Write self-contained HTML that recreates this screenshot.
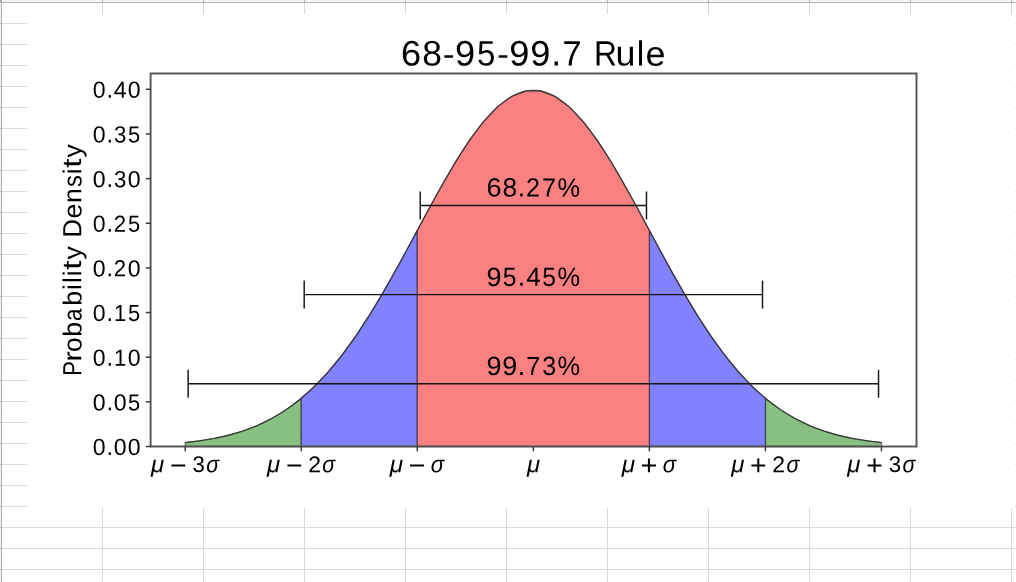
<!DOCTYPE html>
<html><head><meta charset="utf-8"><title>68-95-99.7 Rule</title>
<style>html,body{margin:0;padding:0;background:#fff;width:1016px;height:582px;overflow:hidden}svg{display:block;will-change:transform}text{font-family:"Liberation Sans",sans-serif;font-kerning:none;text-rendering:geometricPrecision;fill:#000}</style>
</head><body>
<svg width="1016" height="582" viewBox="0 0 1016 582" role="img" aria-label="68-95-99.7 Rule chart"><rect x="2" y="23" width="1014" height="1" fill="#dadada"/>
<rect x="2" y="44" width="1014" height="1" fill="#dadada"/>
<rect x="2" y="65" width="1014" height="1" fill="#dadada"/>
<rect x="2" y="86" width="1014" height="1" fill="#dadada"/>
<rect x="2" y="107" width="1014" height="1" fill="#dadada"/>
<rect x="2" y="128" width="1014" height="1" fill="#dadada"/>
<rect x="2" y="149" width="1014" height="1" fill="#dadada"/>
<rect x="2" y="170" width="1014" height="1" fill="#dadada"/>
<rect x="2" y="191" width="1014" height="1" fill="#dadada"/>
<rect x="2" y="212" width="1014" height="1" fill="#dadada"/>
<rect x="2" y="233" width="1014" height="1" fill="#dadada"/>
<rect x="2" y="254" width="1014" height="1" fill="#dadada"/>
<rect x="2" y="275" width="1014" height="1" fill="#dadada"/>
<rect x="2" y="296" width="1014" height="1" fill="#dadada"/>
<rect x="2" y="317" width="1014" height="1" fill="#dadada"/>
<rect x="2" y="338" width="1014" height="1" fill="#dadada"/>
<rect x="2" y="359" width="1014" height="1" fill="#dadada"/>
<rect x="2" y="380" width="1014" height="1" fill="#dadada"/>
<rect x="2" y="401" width="1014" height="1" fill="#dadada"/>
<rect x="2" y="422" width="1014" height="1" fill="#dadada"/>
<rect x="2" y="443" width="1014" height="1" fill="#dadada"/>
<rect x="2" y="464" width="1014" height="1" fill="#dadada"/>
<rect x="2" y="485" width="1014" height="1" fill="#dadada"/>
<rect x="2" y="506" width="1014" height="1" fill="#dadada"/>
<rect x="2" y="527" width="1014" height="1" fill="#dadada"/>
<rect x="2" y="548" width="1014" height="1" fill="#dadada"/>
<rect x="2" y="569" width="1014" height="1" fill="#dadada"/>
<rect x="102" y="3" width="1" height="579" fill="#dadada"/>
<rect x="203" y="3" width="1" height="579" fill="#dadada"/>
<rect x="304" y="3" width="1" height="579" fill="#dadada"/>
<rect x="405" y="3" width="1" height="579" fill="#dadada"/>
<rect x="506" y="3" width="1" height="579" fill="#dadada"/>
<rect x="607" y="3" width="1" height="579" fill="#dadada"/>
<rect x="708" y="3" width="1" height="579" fill="#dadada"/>
<rect x="809" y="3" width="1" height="579" fill="#dadada"/>
<rect x="910" y="3" width="1" height="579" fill="#dadada"/>
<rect x="1011" y="3" width="1" height="579" fill="#dadada"/>
<rect x="0" y="0" width="1016" height="1" fill="#f3f4f6"/>
<rect x="0" y="1" width="1016" height="1" fill="#f8f9fa"/>
<rect x="0" y="0" width="1" height="582" fill="#f3f4f6"/>
<rect x="0" y="2" width="1016" height="1" fill="#b0b0b0"/>
<rect x="1" y="0" width="1" height="582" fill="#b0b0b0"/>
<rect x="102" y="0" width="1" height="2" fill="#b0b0b0"/>
<rect x="203" y="0" width="1" height="2" fill="#b0b0b0"/>
<rect x="304" y="0" width="1" height="2" fill="#b0b0b0"/>
<rect x="405" y="0" width="1" height="2" fill="#b0b0b0"/>
<rect x="506" y="0" width="1" height="2" fill="#b0b0b0"/>
<rect x="607" y="0" width="1" height="2" fill="#b0b0b0"/>
<rect x="708" y="0" width="1" height="2" fill="#b0b0b0"/>
<rect x="809" y="0" width="1" height="2" fill="#b0b0b0"/>
<rect x="910" y="0" width="1" height="2" fill="#b0b0b0"/>
<rect x="1011" y="0" width="1" height="2" fill="#b0b0b0"/>
<rect x="0" y="23" width="1" height="1" fill="#b0b0b0"/>
<rect x="0" y="44" width="1" height="1" fill="#b0b0b0"/>
<rect x="0" y="65" width="1" height="1" fill="#b0b0b0"/>
<rect x="0" y="86" width="1" height="1" fill="#b0b0b0"/>
<rect x="0" y="107" width="1" height="1" fill="#b0b0b0"/>
<rect x="0" y="128" width="1" height="1" fill="#b0b0b0"/>
<rect x="0" y="149" width="1" height="1" fill="#b0b0b0"/>
<rect x="0" y="170" width="1" height="1" fill="#b0b0b0"/>
<rect x="0" y="191" width="1" height="1" fill="#b0b0b0"/>
<rect x="0" y="212" width="1" height="1" fill="#b0b0b0"/>
<rect x="0" y="233" width="1" height="1" fill="#b0b0b0"/>
<rect x="0" y="254" width="1" height="1" fill="#b0b0b0"/>
<rect x="0" y="275" width="1" height="1" fill="#b0b0b0"/>
<rect x="0" y="296" width="1" height="1" fill="#b0b0b0"/>
<rect x="0" y="317" width="1" height="1" fill="#b0b0b0"/>
<rect x="0" y="338" width="1" height="1" fill="#b0b0b0"/>
<rect x="0" y="359" width="1" height="1" fill="#b0b0b0"/>
<rect x="0" y="380" width="1" height="1" fill="#b0b0b0"/>
<rect x="0" y="401" width="1" height="1" fill="#b0b0b0"/>
<rect x="0" y="422" width="1" height="1" fill="#b0b0b0"/>
<rect x="0" y="443" width="1" height="1" fill="#b0b0b0"/>
<rect x="0" y="464" width="1" height="1" fill="#b0b0b0"/>
<rect x="0" y="485" width="1" height="1" fill="#b0b0b0"/>
<rect x="0" y="506" width="1" height="1" fill="#b0b0b0"/>
<rect x="0" y="527" width="1" height="1" fill="#b0b0b0"/>
<rect x="0" y="548" width="1" height="1" fill="#b0b0b0"/>
<rect x="0" y="569" width="1" height="1" fill="#b0b0b0"/>
<rect x="0" y="0" width="2" height="2" fill="#b0b0b0"/>
<rect x="27" y="14" width="988" height="494" fill="#fff"/>
<g><path d="M185.26,446.50 L185.26,442.54 L186.71,442.39 L188.16,442.24 L189.61,442.07 L191.06,441.91 L192.51,441.74 L193.96,441.56 L195.41,441.37 L196.86,441.18 L198.31,440.99 L199.76,440.79 L201.21,440.58 L202.66,440.36 L204.11,440.14 L205.57,439.91 L207.02,439.68 L208.47,439.43 L209.92,439.18 L211.37,438.92 L212.82,438.65 L214.27,438.38 L215.72,438.10 L217.17,437.80 L218.62,437.50 L220.07,437.19 L221.52,436.88 L222.97,436.55 L224.42,436.21 L225.87,435.86 L227.32,435.50 L228.77,435.14 L230.22,434.76 L231.67,434.37 L233.12,433.97 L234.57,433.56 L236.02,433.14 L237.47,432.70 L238.92,432.26 L240.37,431.80 L241.82,431.33 L243.28,430.85 L244.73,430.35 L246.18,429.84 L247.63,429.32 L249.08,428.79 L250.53,428.24 L251.98,427.67 L253.43,427.09 L254.88,426.50 L256.33,425.89 L257.78,425.27 L259.23,424.63 L260.68,423.98 L262.13,423.31 L263.58,422.62 L265.03,421.92 L266.48,421.20 L267.93,420.47 L269.38,419.72 L270.83,418.94 L272.28,418.16 L273.73,417.35 L275.18,416.53 L276.63,415.68 L278.08,414.82 L279.53,413.94 L280.98,413.04 L282.44,412.12 L283.89,411.18 L285.34,410.22 L286.79,409.24 L288.24,408.24 L289.69,407.22 L291.14,406.18 L292.59,405.12 L294.04,404.03 L295.49,402.93 L296.94,401.80 L298.39,400.65 L299.84,399.48 L301.29,398.29 L301.29,446.50 Z" fill="#88c082" stroke="#000" stroke-width="1.35" stroke-opacity="0.45"/>
<path d="M765.41,446.50 L765.41,398.29 L766.86,399.48 L768.31,400.65 L769.76,401.80 L771.21,402.93 L772.66,404.03 L774.11,405.12 L775.56,406.18 L777.01,407.22 L778.46,408.24 L779.91,409.24 L781.36,410.22 L782.81,411.18 L784.26,412.12 L785.72,413.04 L787.17,413.94 L788.62,414.82 L790.07,415.68 L791.52,416.53 L792.97,417.35 L794.42,418.16 L795.87,418.94 L797.32,419.72 L798.77,420.47 L800.22,421.20 L801.67,421.92 L803.12,422.62 L804.57,423.31 L806.02,423.98 L807.47,424.63 L808.92,425.27 L810.37,425.89 L811.82,426.50 L813.27,427.09 L814.72,427.67 L816.17,428.24 L817.62,428.79 L819.07,429.32 L820.52,429.84 L821.97,430.35 L823.42,430.85 L824.88,431.33 L826.33,431.80 L827.78,432.26 L829.23,432.70 L830.68,433.14 L832.13,433.56 L833.58,433.97 L835.03,434.37 L836.48,434.76 L837.93,435.14 L839.38,435.50 L840.83,435.86 L842.28,436.21 L843.73,436.55 L845.18,436.88 L846.63,437.19 L848.08,437.50 L849.53,437.80 L850.98,438.10 L852.43,438.38 L853.88,438.65 L855.33,438.92 L856.78,439.18 L858.23,439.43 L859.68,439.68 L861.13,439.91 L862.59,440.14 L864.04,440.36 L865.49,440.58 L866.94,440.79 L868.39,440.99 L869.84,441.18 L871.29,441.37 L872.74,441.56 L874.19,441.74 L875.64,441.91 L877.09,442.07 L878.54,442.24 L879.99,442.39 L881.44,442.54 L881.44,446.50 Z" fill="#88c082" stroke="#000" stroke-width="1.35" stroke-opacity="0.45"/>
<path d="M301.29,446.50 L301.29,398.29 L302.74,397.07 L304.19,395.83 L305.64,394.57 L307.09,393.28 L308.54,391.97 L309.99,390.64 L311.44,389.28 L312.89,387.91 L314.34,386.50 L315.79,385.07 L317.24,383.62 L318.69,382.15 L320.14,380.65 L321.60,379.12 L323.05,377.57 L324.50,376.00 L325.95,374.40 L327.40,372.78 L328.85,371.13 L330.30,369.45 L331.75,367.76 L333.20,366.03 L334.65,364.29 L336.10,362.51 L337.55,360.72 L339.00,358.90 L340.45,357.05 L341.90,355.18 L343.35,353.28 L344.80,351.36 L346.25,349.42 L347.70,347.45 L349.15,345.45 L350.60,343.44 L352.05,341.40 L353.50,339.33 L354.95,337.24 L356.40,335.13 L357.85,333.00 L359.31,330.84 L360.76,328.66 L362.21,326.46 L363.66,324.23 L365.11,321.99 L366.56,319.72 L368.01,317.43 L369.46,315.12 L370.91,312.79 L372.36,310.44 L373.81,308.07 L375.26,305.69 L376.71,303.28 L378.16,300.85 L379.61,298.41 L381.06,295.95 L382.51,293.47 L383.96,290.97 L385.41,288.46 L386.86,285.94 L388.31,283.39 L389.76,280.84 L391.21,278.27 L392.66,275.69 L394.11,273.09 L395.56,270.48 L397.01,267.87 L398.47,265.24 L399.92,262.60 L401.37,259.95 L402.82,257.29 L404.27,254.63 L405.72,251.96 L407.17,249.28 L408.62,246.60 L410.07,243.91 L411.52,241.22 L412.97,238.52 L414.42,235.82 L415.87,233.12 L417.32,230.42 L417.32,446.50 Z" fill="#8282fe" stroke="#000" stroke-width="1.35" stroke-opacity="0.45"/>
<path d="M649.38,446.50 L649.38,230.42 L650.83,233.12 L652.28,235.82 L653.73,238.52 L655.18,241.22 L656.63,243.91 L658.08,246.60 L659.53,249.28 L660.98,251.96 L662.43,254.63 L663.88,257.29 L665.33,259.95 L666.78,262.60 L668.23,265.24 L669.69,267.87 L671.14,270.48 L672.59,273.09 L674.04,275.69 L675.49,278.27 L676.94,280.84 L678.39,283.39 L679.84,285.94 L681.29,288.46 L682.74,290.97 L684.19,293.47 L685.64,295.95 L687.09,298.41 L688.54,300.85 L689.99,303.28 L691.44,305.69 L692.89,308.07 L694.34,310.44 L695.79,312.79 L697.24,315.12 L698.69,317.43 L700.14,319.72 L701.59,321.99 L703.04,324.23 L704.49,326.46 L705.94,328.66 L707.39,330.84 L708.85,333.00 L710.30,335.13 L711.75,337.24 L713.20,339.33 L714.65,341.40 L716.10,343.44 L717.55,345.45 L719.00,347.45 L720.45,349.42 L721.90,351.36 L723.35,353.28 L724.80,355.18 L726.25,357.05 L727.70,358.90 L729.15,360.72 L730.60,362.51 L732.05,364.29 L733.50,366.03 L734.95,367.76 L736.40,369.45 L737.85,371.13 L739.30,372.78 L740.75,374.40 L742.20,376.00 L743.65,377.57 L745.10,379.12 L746.56,380.65 L748.01,382.15 L749.46,383.62 L750.91,385.07 L752.36,386.50 L753.81,387.91 L755.26,389.28 L756.71,390.64 L758.16,391.97 L759.61,393.28 L761.06,394.57 L762.51,395.83 L763.96,397.07 L765.41,398.29 L765.41,446.50 Z" fill="#8282fe" stroke="#000" stroke-width="1.35" stroke-opacity="0.45"/>
<path d="M417.32,446.50 L417.32,230.42 L420.22,225.02 L423.12,219.63 L426.02,214.25 L428.92,208.89 L431.82,203.55 L434.72,198.26 L437.63,193.01 L440.53,187.81 L443.43,182.66 L446.33,177.58 L449.23,172.58 L452.13,167.66 L455.03,162.82 L457.93,158.09 L460.83,153.45 L463.73,148.93 L466.63,144.53 L469.53,140.25 L472.43,136.11 L475.34,132.11 L478.24,128.25 L481.14,124.55 L484.04,121.01 L486.94,117.63 L489.84,114.43 L492.74,111.41 L495.64,108.57 L498.54,105.92 L501.44,103.46 L504.34,101.21 L507.24,99.15 L510.14,97.30 L513.04,95.66 L515.95,94.23 L518.85,93.02 L521.75,92.02 L524.65,91.25 L527.55,90.69 L530.45,90.36 L533.35,90.24 L536.25,90.36 L539.15,90.69 L542.05,91.25 L544.95,92.02 L547.85,93.02 L550.75,94.23 L553.66,95.66 L556.56,97.30 L559.46,99.15 L562.36,101.21 L565.26,103.46 L568.16,105.92 L571.06,108.57 L573.96,111.41 L576.86,114.43 L579.76,117.63 L582.66,121.01 L585.56,124.55 L588.46,128.25 L591.37,132.11 L594.27,136.11 L597.17,140.25 L600.07,144.53 L602.97,148.93 L605.87,153.45 L608.77,158.09 L611.67,162.82 L614.57,167.66 L617.47,172.58 L620.37,177.58 L623.27,182.66 L626.17,187.81 L629.07,193.01 L631.98,198.26 L634.88,203.55 L637.78,208.89 L640.68,214.25 L643.58,219.63 L646.48,225.02 L649.38,230.42 L649.38,446.50 Z" fill="#fa8082" stroke="#000" stroke-width="1.35" stroke-opacity="0.45"/>
<polyline points="185.26,442.54 199.47,440.83 213.68,438.49 227.88,435.36 242.09,431.24 256.30,425.91 270.51,419.12 284.71,410.64 298.92,400.22 313.13,387.68 327.34,372.84 341.55,355.64 355.75,336.08 369.96,314.32 384.17,290.62 398.38,265.40 412.58,239.23 426.79,212.82 441.00,186.96 455.21,162.53 469.42,140.42 483.62,121.50 497.83,106.55 512.04,96.20 526.25,90.91 540.45,90.91 554.66,96.20 568.87,106.55 583.08,121.50 597.28,140.42 611.49,162.53 625.70,186.96 639.91,212.82 654.12,239.23 668.32,265.40 682.53,290.62 696.74,314.32 710.95,336.08 725.15,355.64 739.36,372.84 753.57,387.68 767.78,400.22 781.99,410.64 796.19,419.12 810.40,425.91 824.61,431.24 838.82,435.36 853.02,438.49 867.23,440.83 881.44,442.54" fill="none" stroke="#333" stroke-width="1.1"/>
<rect x="150.6" y="73.5" width="765.90" height="373.00" fill="none" stroke="#525252" stroke-width="1.9"/>
<line x1="185.26" y1="446.5" x2="185.26" y2="451.30" stroke="#3a3a3a" stroke-width="1.5"/>
<line x1="301.29" y1="446.5" x2="301.29" y2="451.30" stroke="#3a3a3a" stroke-width="1.5"/>
<line x1="417.32" y1="446.5" x2="417.32" y2="451.30" stroke="#3a3a3a" stroke-width="1.5"/>
<line x1="533.35" y1="446.5" x2="533.35" y2="451.30" stroke="#3a3a3a" stroke-width="1.5"/>
<line x1="649.38" y1="446.5" x2="649.38" y2="451.30" stroke="#3a3a3a" stroke-width="1.5"/>
<line x1="765.41" y1="446.5" x2="765.41" y2="451.30" stroke="#3a3a3a" stroke-width="1.5"/>
<line x1="881.44" y1="446.5" x2="881.44" y2="451.30" stroke="#3a3a3a" stroke-width="1.5"/>
<line x1="145.80" y1="446.50" x2="150.6" y2="446.50" stroke="#3a3a3a" stroke-width="1.5"/>
<line x1="145.80" y1="401.85" x2="150.6" y2="401.85" stroke="#3a3a3a" stroke-width="1.5"/>
<line x1="145.80" y1="357.20" x2="150.6" y2="357.20" stroke="#3a3a3a" stroke-width="1.5"/>
<line x1="145.80" y1="312.55" x2="150.6" y2="312.55" stroke="#3a3a3a" stroke-width="1.5"/>
<line x1="145.80" y1="267.90" x2="150.6" y2="267.90" stroke="#3a3a3a" stroke-width="1.5"/>
<line x1="145.80" y1="223.25" x2="150.6" y2="223.25" stroke="#3a3a3a" stroke-width="1.5"/>
<line x1="145.80" y1="178.60" x2="150.6" y2="178.60" stroke="#3a3a3a" stroke-width="1.5"/>
<line x1="145.80" y1="133.95" x2="150.6" y2="133.95" stroke="#3a3a3a" stroke-width="1.5"/>
<line x1="145.80" y1="89.30" x2="150.6" y2="89.30" stroke="#3a3a3a" stroke-width="1.5"/>
<g stroke="#141414" stroke-width="1.45" fill="none"><line x1="420.22" y1="205.45" x2="646.48" y2="205.45"/><line x1="420.22" y1="191.45" x2="420.22" y2="219.45"/><line x1="646.48" y1="191.45" x2="646.48" y2="219.45"/></g>
<g stroke="#141414" stroke-width="1.45" fill="none"><line x1="304.19" y1="294.60" x2="762.51" y2="294.60"/><line x1="304.19" y1="280.60" x2="304.19" y2="308.60"/><line x1="762.51" y1="280.60" x2="762.51" y2="308.60"/></g>
<g stroke="#141414" stroke-width="1.45" fill="none"><line x1="188.16" y1="383.75" x2="878.54" y2="383.75"/><line x1="188.16" y1="369.75" x2="188.16" y2="397.75"/><line x1="878.54" y1="369.75" x2="878.54" y2="397.75"/></g>
<g aria-label="68-95-99.7 Rule"><text transform="matrix(1.0213,0.001,0,1,400.88,65.62)" font-size="35.47" >6</text><text transform="matrix(0.9975,0.001,0,1,422.24,65.62)" font-size="35.47" >8</text><text transform="matrix(1.0517,0.001,0,1,442.68,65.44)" font-size="34.03" >-</text><text transform="matrix(1.0192,0.001,0,1,455.02,65.62)" font-size="35.47" >9</text><text transform="matrix(0.9341,0.001,0,1,476.99,65.62)" font-size="35.36" >5</text><text transform="matrix(1.0517,0.001,0,1,496.90,65.44)" font-size="34.03" >-</text><text transform="matrix(1.0192,0.001,0,1,509.25,65.62)" font-size="35.47" >9</text><text transform="matrix(1.0192,0.001,0,1,530.37,65.62)" font-size="35.47" >9</text><text transform="matrix(0.9329,0.001,0,1,551.37,65.50)" font-size="38.51" >.</text><text transform="matrix(0.9731,0.001,0,1,562.62,65.50)" font-size="35.18" >7</text><text transform="matrix(0.9026,0.001,0,1,593.98,65.50)" font-size="35.18" >R</text><text transform="matrix(1.0103,0.001,0,1,615.40,65.62)" font-size="35.43" >u</text><text transform="matrix(0.9749,0.001,0,1,636.79,65.50)" font-size="34.81" >l</text><text transform="matrix(1.0305,0.001,0,1,645.48,65.63)" font-size="34.80" >e</text></g>
<g aria-label="68.27%"><text transform="matrix(1.0213,0.001,0,1,486.52,196.59)" font-size="26.44" >6</text><text transform="matrix(0.9975,0.001,0,1,502.44,196.59)" font-size="26.44" >8</text><text transform="matrix(0.9329,0.001,0,1,517.86,196.50)" font-size="28.71" >.</text><text transform="matrix(0.9559,0.001,0,1,526.07,196.50)" font-size="26.31" >2</text><text transform="matrix(0.9731,0.001,0,1,541.99,196.50)" font-size="26.23" >7</text><text transform="matrix(0.9500,0.001,0,1,557.48,196.69)" font-size="26.75" >%</text></g>
<g aria-label="95.45%"><text transform="matrix(1.0192,0.001,0,1,486.46,285.89)" font-size="26.44" >9</text><text transform="matrix(0.9341,0.001,0,1,502.83,285.89)" font-size="26.36" >5</text><text transform="matrix(0.9329,0.001,0,1,517.86,285.80)" font-size="28.71" >.</text><text transform="matrix(0.9949,0.001,0,1,526.13,285.80)" font-size="26.23" >4</text><text transform="matrix(0.9341,0.001,0,1,542.20,285.89)" font-size="26.36" >5</text><text transform="matrix(0.9500,0.001,0,1,557.48,285.99)" font-size="26.75" >%</text></g>
<g aria-label="99.73%"><text transform="matrix(1.0192,0.001,0,1,486.46,374.99)" font-size="26.44" >9</text><text transform="matrix(1.0192,0.001,0,1,502.21,374.99)" font-size="26.44" >9</text><text transform="matrix(0.9329,0.001,0,1,517.86,374.90)" font-size="28.71" >.</text><text transform="matrix(0.9731,0.001,0,1,526.25,374.90)" font-size="26.23" >7</text><text transform="matrix(0.9477,0.001,0,1,542.20,374.99)" font-size="26.44" >3</text><text transform="matrix(0.9500,0.001,0,1,557.48,375.09)" font-size="26.75" >%</text></g>
<g aria-label="0.00"><text transform="matrix(0.9868,0.001,0,1,92.86,455.03)" font-size="23.43" >0</text><text transform="matrix(0.9329,0.001,0,1,106.45,454.95)" font-size="25.43" >.</text><text transform="matrix(0.9868,0.001,0,1,113.79,455.03)" font-size="23.43" >0</text><text transform="matrix(0.9868,0.001,0,1,127.74,455.03)" font-size="23.43" >0</text></g>
<g aria-label="0.05"><text transform="matrix(0.9868,0.001,0,1,92.86,410.38)" font-size="23.43" >0</text><text transform="matrix(0.9329,0.001,0,1,106.45,410.30)" font-size="25.43" >.</text><text transform="matrix(0.9868,0.001,0,1,113.79,410.38)" font-size="23.43" >0</text><text transform="matrix(0.9341,0.001,0,1,128.02,410.38)" font-size="23.36" >5</text></g>
<g aria-label="0.10"><text transform="matrix(0.9868,0.001,0,1,92.86,365.73)" font-size="23.43" >0</text><text transform="matrix(0.9329,0.001,0,1,106.45,365.65)" font-size="25.43" >.</text><text transform="matrix(0.9502,0.001,0,1,113.97,365.65)" font-size="23.24" >1</text><text transform="matrix(0.9868,0.001,0,1,127.74,365.73)" font-size="23.43" >0</text></g>
<g aria-label="0.15"><text transform="matrix(0.9868,0.001,0,1,92.86,321.08)" font-size="23.43" >0</text><text transform="matrix(0.9329,0.001,0,1,106.45,321.00)" font-size="25.43" >.</text><text transform="matrix(0.9502,0.001,0,1,113.97,321.00)" font-size="23.24" >1</text><text transform="matrix(0.9341,0.001,0,1,128.02,321.08)" font-size="23.36" >5</text></g>
<g aria-label="0.20"><text transform="matrix(0.9868,0.001,0,1,92.86,276.43)" font-size="23.43" >0</text><text transform="matrix(0.9329,0.001,0,1,106.45,276.35)" font-size="25.43" >.</text><text transform="matrix(0.9559,0.001,0,1,113.73,276.35)" font-size="23.31" >2</text><text transform="matrix(0.9868,0.001,0,1,127.74,276.43)" font-size="23.43" >0</text></g>
<g aria-label="0.25"><text transform="matrix(0.9868,0.001,0,1,92.86,231.78)" font-size="23.43" >0</text><text transform="matrix(0.9329,0.001,0,1,106.45,231.70)" font-size="25.43" >.</text><text transform="matrix(0.9559,0.001,0,1,113.73,231.70)" font-size="23.31" >2</text><text transform="matrix(0.9341,0.001,0,1,128.02,231.78)" font-size="23.36" >5</text></g>
<g aria-label="0.30"><text transform="matrix(0.9868,0.001,0,1,92.86,187.13)" font-size="23.43" >0</text><text transform="matrix(0.9329,0.001,0,1,106.45,187.05)" font-size="25.43" >.</text><text transform="matrix(0.9477,0.001,0,1,114.07,187.13)" font-size="23.43" >3</text><text transform="matrix(0.9868,0.001,0,1,127.74,187.13)" font-size="23.43" >0</text></g>
<g aria-label="0.35"><text transform="matrix(0.9868,0.001,0,1,92.86,142.48)" font-size="23.43" >0</text><text transform="matrix(0.9329,0.001,0,1,106.45,142.40)" font-size="25.43" >.</text><text transform="matrix(0.9477,0.001,0,1,114.07,142.48)" font-size="23.43" >3</text><text transform="matrix(0.9341,0.001,0,1,128.02,142.48)" font-size="23.36" >5</text></g>
<g aria-label="0.40"><text transform="matrix(0.9868,0.001,0,1,92.86,97.83)" font-size="23.43" >0</text><text transform="matrix(0.9329,0.001,0,1,106.45,97.75)" font-size="25.43" >.</text><text transform="matrix(0.9949,0.001,0,1,113.79,97.75)" font-size="23.24" >4</text><text transform="matrix(0.9868,0.001,0,1,127.74,97.83)" font-size="23.43" >0</text></g>
<g transform="translate(81.3,376.43) rotate(-90)"><g aria-label="Probability Density"><text transform="matrix(0.8346,0.001,0,1,0.63,0.00)" font-size="26.23" >P</text><text transform="matrix(1.2310,0.001,0,1,14.63,0.00)" font-size="25.76" >r</text><text transform="matrix(1.0143,0.001,0,1,24.38,0.10)" font-size="25.94" >o</text><text transform="matrix(1.0323,0.001,0,1,39.78,0.10)" font-size="26.08" >b</text><text transform="matrix(0.8579,0.001,0,1,55.52,0.10)" font-size="25.94" >a</text><text transform="matrix(1.0323,0.001,0,1,70.65,0.10)" font-size="26.08" >b</text><text transform="matrix(0.9749,0.001,0,1,86.49,0.00)" font-size="25.95" >i</text><text transform="matrix(0.9749,0.001,0,1,93.36,0.00)" font-size="25.95" >l</text><text transform="matrix(0.9749,0.001,0,1,100.24,0.00)" font-size="25.95" >i</text><text transform="matrix(1.2454,0.001,0,1,106.64,-0.21)" font-size="26.56" >t</text><text transform="matrix(1.0468,0.001,0,1,116.86,-0.12)" font-size="25.39" >y</text><text transform="matrix(0.9764,0.001,0,1,139.03,0.00)" font-size="26.23" >D</text><text transform="matrix(1.0305,0.001,0,1,157.99,0.10)" font-size="25.94" >e</text><text transform="matrix(1.0359,0.001,0,1,173.46,0.00)" font-size="25.76" >n</text><text transform="matrix(0.9121,0.001,0,1,189.35,0.10)" font-size="26.01" >s</text><text transform="matrix(0.9749,0.001,0,1,202.21,0.00)" font-size="25.95" >i</text><text transform="matrix(1.2454,0.001,0,1,208.61,-0.21)" font-size="26.56" >t</text><text transform="matrix(1.0468,0.001,0,1,218.82,-0.12)" font-size="25.39" >y</text></g></g>
<g aria-label="μ − 3σ"><text transform="matrix(1.0194,0.001,0,1,151.07,472.37)" font-size="23.60" font-style="italic" >μ</text><text transform="matrix(1.1126,0.001,0,1,169.96,473.89)" font-size="25.53" >−</text><text transform="matrix(0.9800,0.001,0,1,192.52,472.08)" font-size="22.60" >3</text><text transform="matrix(0.9023,0.001,0,1,206.25,472.27)" font-size="23.60" font-style="italic" >σ</text></g>
<g aria-label="μ − 2σ"><text transform="matrix(1.0194,0.001,0,1,267.10,472.37)" font-size="23.60" font-style="italic" >μ</text><text transform="matrix(1.1126,0.001,0,1,285.99,473.89)" font-size="25.53" >−</text><text transform="matrix(1.0058,0.001,0,1,308.23,472.30)" font-size="22.91" >2</text><text transform="matrix(0.9023,0.001,0,1,322.28,472.27)" font-size="23.60" font-style="italic" >σ</text></g>
<g aria-label="μ − σ"><text transform="matrix(1.0347,0.001,0,1,389.63,472.37)" font-size="23.60" font-style="italic" >μ</text><text transform="matrix(1.1368,0.001,0,1,408.39,473.89)" font-size="25.53" >−</text><text transform="matrix(0.9375,0.001,0,1,430.79,472.27)" font-size="23.60" font-style="italic" >σ</text></g>
<g aria-label="μ"><text transform="matrix(1.0117,0.001,0,1,527.05,472.37)" font-size="23.60" font-style="italic" >μ</text></g>
<g aria-label="μ + σ"><text transform="matrix(1.0347,0.001,0,1,621.69,472.37)" font-size="23.60" font-style="italic" >μ</text><text transform="matrix(1.0327,0.001,0,1,640.46,474.77)" font-size="28.10" >+</text><text transform="matrix(0.9375,0.001,0,1,662.85,472.27)" font-size="23.60" font-style="italic" >σ</text></g>
<g aria-label="μ + 2σ"><text transform="matrix(1.0194,0.001,0,1,731.22,472.37)" font-size="23.60" font-style="italic" >μ</text><text transform="matrix(1.0107,0.001,0,1,750.12,474.77)" font-size="28.10" >+</text><text transform="matrix(1.0058,0.001,0,1,772.35,472.30)" font-size="22.91" >2</text><text transform="matrix(0.9023,0.001,0,1,786.40,472.27)" font-size="23.60" font-style="italic" >σ</text></g>
<g aria-label="μ + 3σ"><text transform="matrix(1.0194,0.001,0,1,847.25,472.37)" font-size="23.60" font-style="italic" >μ</text><text transform="matrix(1.0107,0.001,0,1,866.15,474.77)" font-size="28.10" >+</text><text transform="matrix(0.9800,0.001,0,1,888.70,472.08)" font-size="22.60" >3</text><text transform="matrix(0.9023,0.001,0,1,902.43,472.27)" font-size="23.60" font-style="italic" >σ</text></g></g></svg>
</body></html>
